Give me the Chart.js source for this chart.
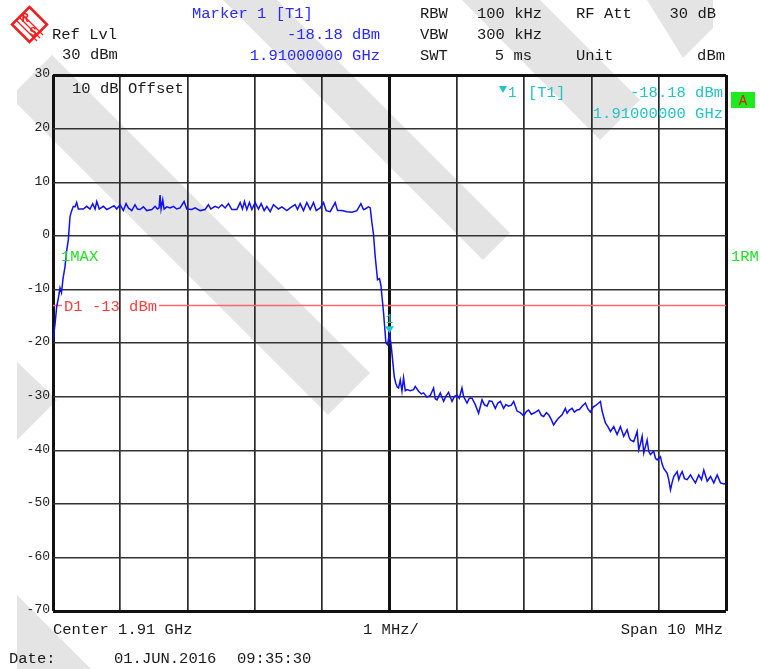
<!DOCTYPE html>
<html>
<head>
<meta charset="utf-8">
<script src="https://cdn.jsdelivr.net/npm/chart.js@4.4.1/dist/chart.umd.min.js"></script>
<style>
  html, body { margin: 0; padding: 0; background: #fff; }
  canvas { display: block; }
</style>
</head>
<body>
<canvas id="spectrum" width="760" height="669"></canvas>
<script>
// span / grid
const spanStartMHz = 1905;
const spanStopMHz = 1915;
const freqGridMHz = [1905, 1906, 1907, 1908, 1909, 1910, 1911, 1912, 1913, 1914, 1915];
const levelTicks = [-70, -60, -50, -40, -30, -20, -10, 0, 10, 20, 30];

// display line D1 and marker 1
const limitDbm = -13;
const markerFreqMHz = 1910.0;
const markerDbm = -18.18;

// trace 1 (max hold)
const freqMHz = [
  1905.000, 1905.030, 1905.055, 1905.082, 1905.104, 1905.126, 1905.149, 1905.178, 1905.201, 1905.228,
  1905.253, 1905.275, 1905.302, 1905.327, 1905.352, 1905.376, 1905.451, 1905.501, 1905.550, 1905.590,
  1905.625, 1905.650, 1905.688, 1905.748, 1905.799, 1905.848, 1905.907, 1905.947, 1905.996, 1906.045,
  1906.086, 1906.120, 1906.170, 1906.219, 1906.254, 1906.294, 1906.343, 1906.393, 1906.468, 1906.517,
  1906.551, 1906.576, 1906.591, 1906.606, 1906.631, 1906.651, 1906.691, 1906.740, 1906.789, 1906.839,
  1906.888, 1906.948, 1906.988, 1907.062, 1907.112, 1907.186, 1907.260, 1907.309, 1907.345, 1907.409,
  1907.458, 1907.509, 1907.558, 1907.607, 1907.657, 1907.732, 1907.781, 1907.815, 1907.845, 1907.880,
  1907.919, 1907.955, 1908.004, 1908.053, 1908.093, 1908.138, 1908.178, 1908.227, 1908.276, 1908.350,
  1908.401, 1908.475, 1908.524, 1908.599, 1908.633, 1908.673, 1908.722, 1908.772, 1908.822, 1908.871,
  1908.911, 1908.970, 1909.019, 1909.059, 1909.119, 1909.193, 1909.228, 1909.293, 1909.367, 1909.442,
  1909.516, 1909.575, 1909.614, 1909.639, 1909.688, 1909.714, 1909.739, 1909.763, 1909.788, 1909.822,
  1909.852, 1909.873, 1909.912, 1909.947, 1909.971, 1910.000, 1910.026, 1910.045, 1910.071, 1910.093,
  1910.115, 1910.135, 1910.160, 1910.185, 1910.209, 1910.234, 1910.259, 1910.309, 1910.358, 1910.383,
  1910.432, 1910.472, 1910.506, 1910.557, 1910.606, 1910.655, 1910.680, 1910.706, 1910.755, 1910.804,
  1910.844, 1910.878, 1910.929, 1910.963, 1911.003, 1911.037, 1911.077, 1911.101, 1911.152, 1911.186,
  1911.226, 1911.275, 1911.324, 1911.375, 1911.409, 1911.449, 1911.483, 1911.523, 1911.572, 1911.610,
  1911.647, 1911.696, 1911.729, 1911.770, 1911.810, 1911.845, 1911.895, 1911.944, 1911.993, 1912.033,
  1912.068, 1912.108, 1912.142, 1912.182, 1912.216, 1912.257, 1912.291, 1912.331, 1912.365, 1912.405,
  1912.439, 1912.480, 1912.514, 1912.564, 1912.613, 1912.639, 1912.673, 1912.713, 1912.747, 1912.787,
  1912.822, 1912.862, 1912.911, 1912.948, 1912.985, 1913.022, 1913.059, 1913.109, 1913.134, 1913.159,
  1913.183, 1913.208, 1913.245, 1913.283, 1913.332, 1913.382, 1913.431, 1913.480, 1913.531, 1913.558,
  1913.580, 1913.629, 1913.680, 1913.703, 1913.729, 1913.754, 1913.778, 1913.828, 1913.852, 1913.877,
  1913.926, 1913.952, 1913.977, 1914.026, 1914.051, 1914.075, 1914.126, 1914.149, 1914.175, 1914.200,
  1914.224, 1914.274, 1914.298, 1914.323, 1914.349, 1914.383, 1914.423, 1914.472, 1914.509, 1914.546,
  1914.596, 1914.636, 1914.670, 1914.721, 1914.770, 1914.819, 1914.869, 1914.918, 1914.967, 1915.000
];
const levelDbm = [
  -19.6, -16.5, -13.2, -11.5, -9.7, -10.6, -8.0, -5.8, -3.0, -0.7,
  3.6, 4.6, 5.5, 5.4, 6.2, 5.0, 5.0, 5.5, 5.0, 6.0,
  5.0, 6.4, 5.0, 5.5, 4.9, 5.2, 5.6, 5.0, 5.8, 4.7,
  6.0, 5.2, 4.7, 5.8, 5.0, 4.9, 5.4, 4.7, 4.9, 5.5,
  5.0, 5.2, 7.6, 5.0, 6.7, 5.0, 5.4, 5.2, 5.5, 5.0,
  5.2, 6.4, 5.0, 4.9, 5.2, 4.7, 4.9, 5.8, 5.0, 5.5,
  5.2, 5.8, 5.2, 6.0, 4.9, 4.9, 6.2, 5.0, 6.4, 4.9,
  6.2, 4.9, 6.2, 5.0, 6.0, 4.7, 5.5, 4.5, 5.8, 5.0,
  5.4, 4.7, 5.2, 5.8, 4.9, 6.0, 4.7, 6.2, 4.9, 6.2,
  4.7, 5.2, 6.2, 4.7, 4.5, 6.2, 4.7, 4.7, 4.5, 4.4,
  4.7, 6.0, 4.9, 5.0, 5.4, 5.2, 2.4, 0.2, -3.9, -8.2,
  -8.0, -9.3, -14.4, -20.0, -20.3, -18.18, -20.6, -23.0, -26.3, -27.5,
  -28.2, -28.4, -26.9, -29.0, -26.5, -28.9, -28.7, -28.9, -28.7, -28.1,
  -29.0, -29.5, -29.3, -30.1, -29.8, -28.4, -30.4, -30.6, -29.3, -30.9,
  -29.8, -29.2, -30.9, -30.0, -29.7, -30.3, -28.4, -30.0, -31.2, -30.3,
  -30.3, -31.5, -33.1, -30.6, -31.5, -31.8, -30.8, -30.9, -32.2, -31.2,
  -30.9, -32.2, -31.5, -31.8, -31.6, -30.9, -32.7, -33.0, -33.6, -32.8,
  -32.5, -33.3, -33.1, -32.8, -32.5, -33.5, -33.7, -33.0, -33.4, -34.3,
  -35.3, -34.5, -34.0, -33.4, -32.2, -33.1, -32.5, -32.2, -32.9, -32.5,
  -32.4, -31.8, -31.2, -32.3, -32.9, -32.0, -31.7, -31.2, -30.9, -32.7,
  -33.8, -34.9, -35.6, -36.5, -35.6, -37.1, -35.6, -37.4, -36.2, -37.5,
  -38.1, -38.4, -36.5, -39.9, -38.8, -37.4, -40.5, -38.1, -40.2, -40.8,
  -40.2, -41.5, -41.8, -41.2, -42.6, -43.4, -44.3, -45.5, -47.4, -46.0,
  -44.9, -44.0, -45.5, -44.6, -44.0, -45.3, -45.5, -44.6, -45.4, -46.1,
  -44.6, -45.5, -43.7, -45.8, -44.9, -46.1, -44.6, -46.1, -46.3, -46.2
];

const MONO = '"Liberation Mono", "DejaVu Sans Mono", monospace';
const F_MAIN = '15.5px ' + MONO;
const BLACK = '#1a1a1a';
const BLUE = 'rgb(40,40,255)';
const CYAN = 'rgb(34,196,196)';
const GREEN = 'rgb(30,225,30)';
const RED = 'rgb(255,60,60)';
const LOGO_RED = 'rgb(240,30,30)';

// light grey diagonal bands of the screen background
const bands = [
  [[52, 55], [370, 373], [328, 415], [17, 104], [17, 90]],
  [[277, 0], [510, 233], [483, 260], [223, 0]],
  [[462, 0], [540, 0], [640, 100], [600, 140]],
  [[647, 0], [713, 0], [713, 28], [683, 58]],
  [[17, 362], [57, 400], [17, 440]],
  [[17, 595], [91, 669], [17, 669]]
];

function text(c, s, x, y, color, align, font) {
  c.font = font || F_MAIN;
  c.fillStyle = color;
  c.textAlign = align || 'left';
  c.textBaseline = 'alphabetic';
  c.fillText(s, x, y);
}

const screenPlugin = {
  id: 'screen',
  beforeDraw(chart) {
    const c = chart.ctx;
    c.save();
    c.fillStyle = '#fff';
    c.fillRect(0, 0, chart.width, chart.height);
    c.fillStyle = '#e4e4e4';
    bands.forEach(p => {
      c.beginPath();
      p.forEach((pt, i) => i ? c.lineTo(pt[0], pt[1]) : c.moveTo(pt[0], pt[1]));
      c.closePath();
      c.fill();
    });
    c.restore();
  },
  beforeDatasetDraw(chart, args) {
    if (args.index !== 1) return;
    // leave a gap in D1 where its label sits
    const c = chart.ctx, a = chart.chartArea;
    const y = chart.scales.y.getPixelForValue(limitDbm);
    c.save();
    c.font = F_MAIN;
    const w = c.measureText('D1 -13 dBm').width;
    c.beginPath();
    c.rect(0, 0, chart.width, chart.height);
    c.rect(a.left + 9, y - 6, w + 4, 12);
    c.clip('evenodd');
  },
  afterDatasetDraw(chart, args) {
    if (args.index === 1) chart.ctx.restore();
  },
  afterDatasetsDraw(chart) {
    const c = chart.ctx, a = chart.chartArea;
    const xs = chart.scales.x, ys = chart.scales.y;
    c.save();
    // D1 label
    const yl = ys.getPixelForValue(limitDbm);
    text(c, 'D1 -' + Math.abs(limitDbm) + ' dBm', a.left + 11, yl + 5.5, RED);
    // marker 1
    const mx = xs.getPixelForValue(markerFreqMHz), my = ys.getPixelForValue(markerDbm);
    c.fillStyle = CYAN;
    c.beginPath();
    c.moveTo(mx - 4.5, my - 7);
    c.lineTo(mx + 4.5, my - 7);
    c.lineTo(mx, my);
    c.closePath();
    c.fill();
    text(c, '1', mx, my - 10.5, CYAN, 'center', '13px ' + MONO);
    // top cells
    text(c, '10 dB', a.left + 19, a.top + 18, BLACK);
    text(c, 'Offset', a.left + 75, a.top + 18, BLACK);
    c.fillStyle = CYAN;
    c.beginPath();
    c.moveTo(499, 86);
    c.lineTo(507, 86);
    c.lineTo(503, 93);
    c.closePath();
    c.fill();
    text(c, '1', 508, 97, CYAN, 'left', '14px ' + MONO);
    text(c, '[T1]', 528, 97, CYAN);
    text(c, markerDbm.toFixed(2) + ' dBm', a.right - 3, 97, CYAN, 'right');
    text(c, (markerFreqMHz / 1000).toFixed(8) + ' GHz', a.right - 3, 118, CYAN, 'right');
    text(c, '1MAX', a.left + 8, 261, GREEN);
    c.restore();
  },
  afterDraw(chart) {
    const c = chart.ctx;
    c.save();
    // R&S logo
    c.strokeStyle = LOGO_RED;
    c.lineWidth = 2.5;
    c.beginPath();
    c.moveTo(29.5, 7); c.lineTo(47, 24.5); c.lineTo(29.5, 42); c.lineTo(12, 24.5);
    c.closePath();
    c.stroke();
    c.lineWidth = 1.3;
    [-3, 0, 3].forEach(o => {
      c.beginPath();
      c.moveTo(19 + o, 17 - o);
      c.lineTo(40 + o, 38 - o);
      c.stroke();
    });
    text(c, 'R', 25, 22, LOGO_RED, 'center', 'bold 12px ' + MONO);
    text(c, 'S', 33, 36, LOGO_RED, 'center', 'bold 12px ' + MONO);

    // header
    text(c, 'Ref Lvl', 52, 39, BLACK);
    text(c, '30 dBm', 62, 59, BLACK);
    text(c, 'Marker 1 [T1]', 192, 18, BLUE);
    text(c, markerDbm.toFixed(2) + ' dBm', 380, 39, BLUE, 'right');
    text(c, (markerFreqMHz / 1000).toFixed(8) + ' GHz', 380, 60, BLUE, 'right');
    text(c, 'RBW', 420, 18, BLACK);
    text(c, '100 kHz', 477, 18, BLACK);
    text(c, 'RF Att', 576, 18, BLACK);
    text(c, '30 dB', 716, 18, BLACK, 'right');
    text(c, 'VBW', 420, 39, BLACK);
    text(c, '300 kHz', 477, 39, BLACK);
    text(c, 'SWT', 420, 60, BLACK);
    text(c, '5 ms', 532, 60, BLACK, 'right');
    text(c, 'Unit', 576, 60, BLACK);
    text(c, 'dBm', 725, 60, BLACK, 'right');

    // side annotations
    c.fillStyle = 'rgb(30,235,30)';
    c.fillRect(731, 92, 24, 16);
    text(c, 'A', 743, 105, 'rgb(230,20,20)', 'center', '14px ' + MONO);
    text(c, '1RM', 731, 261, GREEN);

    // footer
    const a = chart.chartArea;
    text(c, 'Center 1.91 GHz', a.left, 634, BLACK);
    text(c, '1 MHz/', 363, 634, BLACK);
    text(c, 'Span 10 MHz', a.right - 3, 634, BLACK, 'right');
    text(c, 'Date:', 9, 663, BLACK);
    text(c, '01.JUN.2016', 114, 663, BLACK);
    text(c, '09:35:30', 237, 663, BLACK);
    c.restore();
  }
};

const ctx = document.getElementById('spectrum').getContext('2d');
new Chart(ctx, {
  type: 'line',
  data: {
    datasets: [
      {
        label: 'Trace 1',
        data: freqMHz.map((f, i) => ({ x: f, y: levelDbm[i] })),
        borderColor: 'rgb(16,16,240)',
        borderWidth: 1.5,
        pointRadius: 0,
        tension: 0,
        order: 0
      },
      {
        label: 'D1',
        data: [{ x: spanStartMHz, y: limitDbm }, { x: spanStopMHz, y: limitDbm }],
        borderColor: 'rgb(255,105,105)',
        borderWidth: 1.5,
        pointRadius: 0,
        order: 1
      }
    ]
  },
  options: {
    responsive: false,
    animation: false,
    devicePixelRatio: 1,
    layout: { padding: { left: 0, top: 75, right: 34, bottom: 58 } },
    plugins: { legend: { display: false }, tooltip: { enabled: false } },
    scales: {
      x: {
        type: 'linear',
        min: spanStartMHz,
        max: spanStopMHz,
        afterBuildTicks: s => { s.ticks = freqGridMHz.map(v => ({ value: v })); },
        afterFit: s => { s.height = 0; },
        ticks: { display: false },
        border: { display: false },
        grid: {
          drawTicks: false,
          color: c => (c.tick.value === 1905 || c.tick.value === 1915 || c.tick.value === 1910) ? '#111' : '#2a2a2a',
          lineWidth: c => (c.tick.value === 1905 || c.tick.value === 1915 || c.tick.value === 1910) ? 3 : 1.7
        }
      },
      y: {
        min: -70,
        max: 30,
        afterBuildTicks: s => { s.ticks = levelTicks.map(v => ({ value: v })); },
        afterFit: s => { s.width = 53; },
        ticks: { color: '#222', font: { family: MONO, size: 13 }, padding: 3, labelOffset: -1 },
        border: { display: false },
        grid: {
          drawTicks: false,
          color: c => (c.tick.value === 30 || c.tick.value === -70) ? '#111' : '#333',
          lineWidth: c => (c.tick.value === 30 || c.tick.value === -70) ? 3 : 1.4
        }
      }
    }
  },
  plugins: [screenPlugin]
});
</script>
</body>
</html>
